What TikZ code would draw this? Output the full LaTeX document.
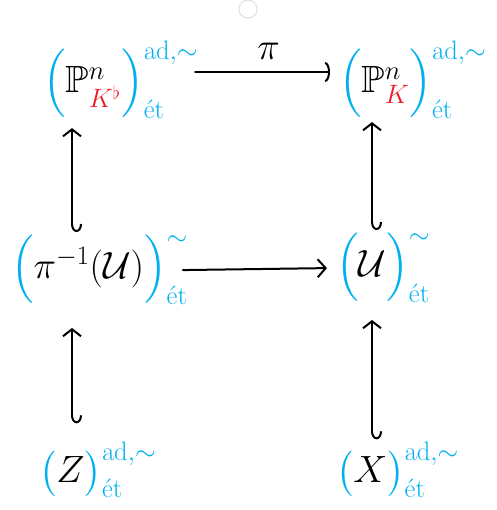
\RequirePackage{fix-cm}
\documentclass[tikz,border=0pt]{standalone}
\usepackage{amsmath}
\usepackage{amssymb}
\usepackage{xcolor}
\usetikzlibrary{arrows.meta, calc}

\definecolor{inkblue}{RGB}{0,176,240}
\definecolor{inkred}{RGB}{235,30,40}
\newcommand{\inkb}[1]{{{\color{inkblue}#1}}}
\newcommand{\inkr}[1]{{{\color{inkred}#1}}}
\newcommand{\et}{\text{ét}}

\begin{document}
\begin{tikzpicture}[x=1pt, y=1pt, line width=2pt, line cap=round,
    obj/.style={inner sep=0pt, anchor=west, font=\fontsize{38}{52}\selectfont},
    incl/.style={{Hooks[left, length=8pt, width=20pt]}-{Straight Barb[length=7pt, width=18pt]}},
    map/.style={-{Straight Barb[length=8pt, width=18pt]}}]
    \useasboundingbox (0,0) rectangle (496,510);
    % faint mark at the top
    \draw[black!12, line width=1pt] (248,501) circle (9);
    % objects
    \node[obj] (PKb) at (42,430) {$\inkb{\Big(}\mathbb{P}^{n}_{\inkr{K^{\flat}}}\inkb{\Big)}^{\inkb{\mathrm{ad},\sim}}_{\inkb{\et}}$};
    \node[obj] (PK) at (338,430) {$\inkb{\Big(}\mathbb{P}^{n}_{\inkr{K}}\inkb{\Big)}^{\inkb{\mathrm{ad},\sim}}_{\inkb{\et}}$};
    \node[obj] (piU) at (10,240) {$\inkb{\Big(}\pi^{-1}(\mathcal{U})\inkb{\Big)}^{\inkb{\sim}}_{\inkb{\et}}$};
    \node[obj] (U) at (335,242) {$\inkb{\Big(}\mathcal{U}\inkb{\Big)}^{\inkb{\sim}}_{\inkb{\et}}$};
    \node[obj] (Z) at (38,40) {$\inkb{\big(}Z\inkb{\big)}^{\inkb{\mathrm{ad},\sim}}_{\inkb{\et}}$};
    \node[obj] (X) at (335,40) {$\inkb{\big(}X\inkb{\big)}^{\inkb{\mathrm{ad},\sim}}_{\inkb{\et}}$};
    % columns of the vertical arrows
    \coordinate (lcol) at (72,0);
    \coordinate (rcol) at (372,0);
    % horizontal maps
    \draw[-{Arc Barb[length=5pt, width=20pt]}, shorten <=-4pt, shorten >=8pt] ([yshift=8pt]PKb.east) -- node[above=8pt, font=\fontsize{38}{46}\selectfont] (pi) {$\pi$} ([yshift=8pt]PK.west);
    \draw[map, shorten <=-6pt, shorten >=8pt] (piU.east) -- (U.west);
    % inclusions
    \draw[incl, shorten <=2pt, shorten >=8pt] (piU.north -| lcol) -- (PKb.south -| lcol);
    \draw[incl, shorten <=2pt, shorten >=2pt] (U.north -| rcol) -- (PK.south -| rcol);
    \draw[incl, shorten <=18pt, shorten >=22pt] (Z.north -| lcol) -- (piU.south -| lcol);
    \draw[incl, shorten <=2pt, shorten >=16pt] (X.north -| rcol) -- (U.south -| rcol);
\end{tikzpicture}
\end{document}
